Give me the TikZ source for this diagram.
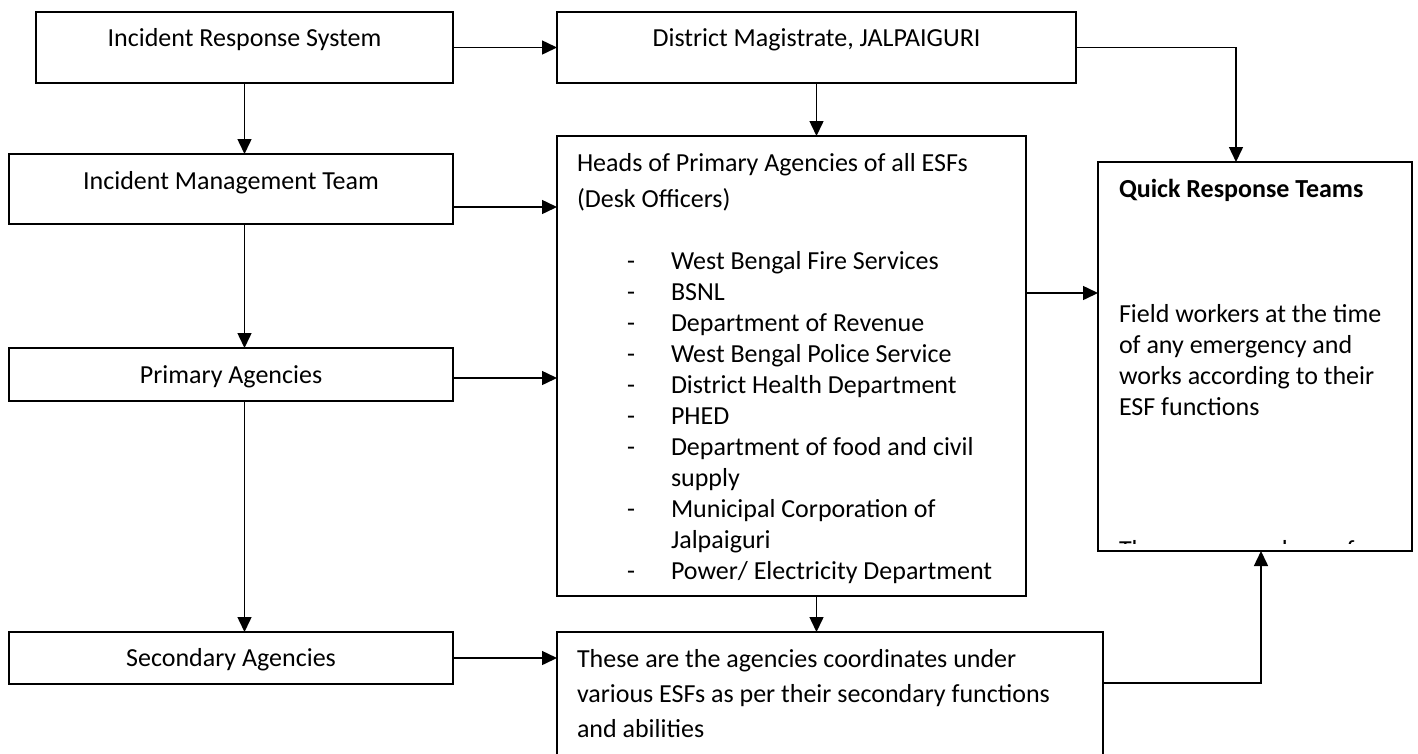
\documentclass[tikz,border=0pt]{standalone}
\usepackage{fontspec}
\setmainfont{Carlito}
\usetikzlibrary{arrows.meta}
\begin{document}
\begin{tikzpicture}[x=1pt,y=-1pt,
  box/.style={draw,line width=1.6pt,inner sep=0pt,outer sep=0pt,shape=rectangle},
  txt/.style={inner sep=0pt,outer sep=0pt,font=\fontsize{26}{31}\selectfont},
  arr/.style={line width=1.5pt,-{Triangle[length=15pt,width=14pt]}}]
\clip (0,0) rectangle (1418,753);
% boxes
\node[box,minimum width=417pt,minimum height=71pt] (irs) at (244.5,47.5) {};
\node[box,minimum width=519pt,minimum height=71pt] (dm) at (816.5,47.5) {};
\node[box,minimum width=444pt,minimum height=70pt] (imt) at (231,189) {};
\node[box,minimum width=469pt,minimum height=460pt] (heads) at (791.5,366) {};
\node[box,minimum width=444pt,minimum height=53pt] (pa) at (231,374.5) {};
\node[box,minimum width=444pt,minimum height=52pt] (sa) at (231,658) {};
\node[box,minimum width=546pt,minimum height=158pt] (sd) at (830,711) {};
\node[box,minimum width=314pt,minimum height=389pt] (qrt) at (1255,356.5) {};
% box texts
\node[txt,anchor=base] (irst) at (244.5,46.7) {Incident Response System};
\node[txt,anchor=base] (dmt) at (816.5,46.7) {District Magistrate, JALPAIGURI};
\node[txt,anchor=base] (imtt) at (231,189) {Incident Management Team};
\node[txt,anchor=base] (pat) at (231,383) {Primary Agencies};
\node[txt,anchor=base] (sat) at (231,666) {Secondary Agencies};
% heads text
\node[txt,anchor=base west] (h1) at (577,171) {Heads of Primary Agencies of all ESFs};
\node[txt,anchor=base west] (h2) at (577,207) {(Desk Officers)};
\begin{scope}
\clip (heads.north west) rectangle (heads.south east |- 0,583);
\foreach \d/\t [count=\i from 0] in {
  -/{West Bengal Fire Services},
  -/{BSNL},
  -/{Department of Revenue},
  -/{West Bengal Police Service},
  -/{District Health Department},
  -/{PHED},
  -/{Department of food and civil},
  {}/{supply},
  -/{Municipal Corporation of},
  {}/{Jalpaiguri},
  -/{Power{/} Electricity Department}}
  \node[txt,anchor=base west] (hl\i) at (627,269+31*\i) {\makebox[44pt][l]{\d}\t};
\end{scope}
% QRT text
\node[txt,anchor=base west,font=\fontsize{26}{31}\selectfont\bfseries] (q1) at (1119,197) {Quick Response Teams};
\node[txt,anchor=base west] (q2) at (1119,322) {Field workers at the time};
\node[txt,anchor=base west] (q3) at (1119,353) {of any emergency and};
\node[txt,anchor=base west] (q4) at (1119,384) {works according to their};
\node[txt,anchor=base west] (q5) at (1119,415) {ESF functions};
\begin{scope}
\clip (qrt.north west) rectangle (1412,543);
\node[txt,anchor=base west] (q6) at (1119,558) {These are members of};
\end{scope}
% secondary description text
\node[txt,anchor=base west] (s1) at (577,667) {These are the agencies coordinates under};
\node[txt,anchor=base west] (s2) at (577,702) {various ESFs as per their secondary functions};
\node[txt,anchor=base west] (s3) at (577,737) {and abilities};
% connectors
\draw[arr] (irs.east) -- (dm.west);
\draw[arr] (irs.south) -- (irs.south |- imt.north);
\draw[arr] (irs.south |- imt.south) -- (irs.south |- pa.north);
\draw[arr] (irs.south |- pa.south) -- (irs.south |- sa.north);
\draw[arr] (imt.east |- 0,207) -- (heads.west |- 0,207);
\draw[arr] (pa.east |- 0,378) -- (heads.west |- 0,378);
\draw[arr] (sa.east) -- (sa.east -| sd.west);
\draw[arr] (dm.south) -- (dm.south |- heads.north);
\draw[arr] (heads.south -| dm.south) -- (sd.north -| dm.south);
\draw[arr] (heads.east |- 0,293) -- (qrt.west |- 0,293);
\draw[arr] (dm.east) -| ([xshift=-19pt]qrt.north);
\draw[arr] (sd.east |- 0,683) -| ([xshift=6pt]qrt.south);
\end{tikzpicture}
\end{document}
